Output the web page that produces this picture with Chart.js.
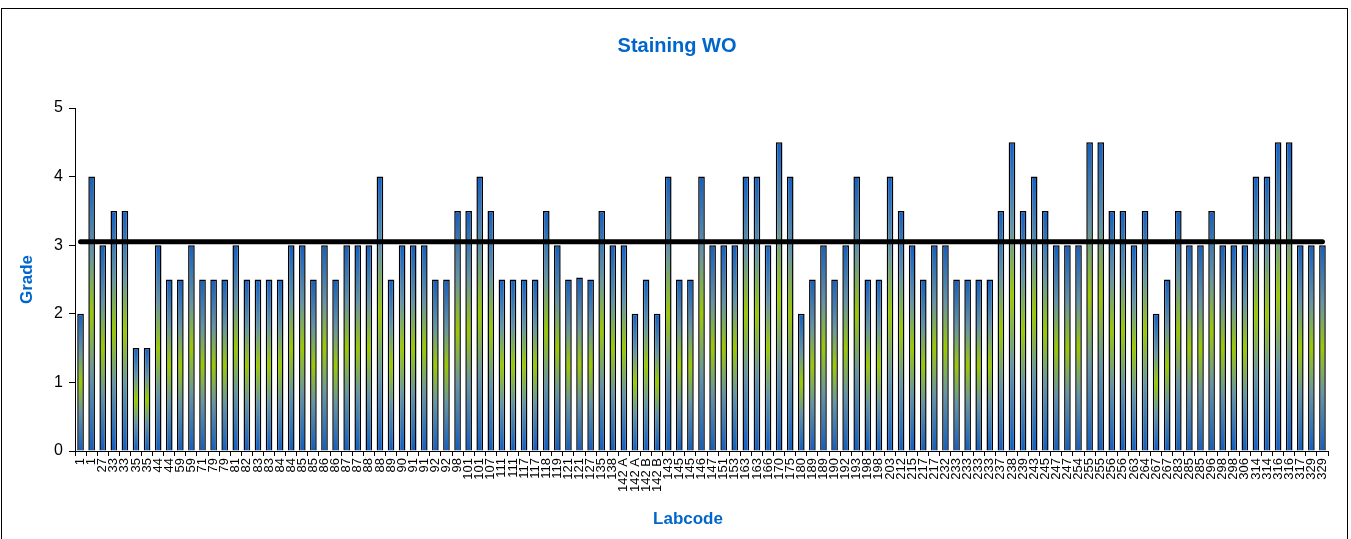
<!DOCTYPE html>
<html>
<head>
<meta charset="utf-8">
<title>Staining WO</title>
<script src="https://cdn.jsdelivr.net/npm/chart.js@4.4.1/dist/chart.umd.min.js"></script>
<style>
  html, body { margin: 0; padding: 0; background: #fff; }
  #wrap { position: relative; width: 1351px; height: 539px; overflow: hidden; }
  #frame { position: absolute; left: 1px; top: 8px; width: 1347px; height: 540px; border: 1px solid #000; box-sizing: border-box; pointer-events: none; }
  canvas { position: absolute; left: 0; top: 0; }
</style>
</head>
<body>
<div id="wrap">
  <canvas id="gradeChart" width="1351" height="539"></canvas>
  <div id="frame"></div>
</div>
<script>
// lab codes along the x axis (two samples per lab mostly)
const labcodes = [
  "1", "1", "27", "33", "33", "35", "35", "44", "44", "59",
  "59", "71", "79", "79", "81", "82", "83", "83", "84", "84",
  "85", "85", "86", "86", "87", "87", "88", "88", "89", "90",
  "91", "91", "92", "92", "98", "101", "101", "107", "111", "111",
  "117", "117", "118", "119", "121", "121", "127", "135", "138", "142 A",
  "142 A", "142 B", "142 B", "143", "145", "145", "146", "147", "151", "153",
  "163", "163", "166", "170", "175", "180", "189", "189", "190", "192",
  "193", "198", "198", "203", "212", "215", "217", "217", "232", "233",
  "233", "233", "233", "237", "238", "239", "243", "245", "247", "247",
  "254", "255", "255", "256", "256", "263", "264", "267", "267", "283",
  "285", "285", "296", "298", "298", "306", "314", "314", "316", "316",
  "317", "329", "329"
];

// grade given by each lab
const grades = [
  2, 4, 3, 3.5, 3.5, 1.5, 1.5, 3, 2.5, 2.5,
  3, 2.5, 2.5, 2.5, 3, 2.5, 2.5, 2.5, 2.5, 3,
  3, 2.5, 3, 2.5, 3, 3, 3, 4, 2.5, 3,
  3, 3, 2.5, 2.5, 3.5, 3.5, 4, 3.5, 2.5, 2.5,
  2.5, 2.5, 3.5, 3, 2.5, 2.53, 2.5, 3.5, 3, 3,
  2, 2.5, 2, 4, 2.5, 2.5, 4, 3, 3, 3,
  4, 4, 3, 4.5, 4, 2, 2.5, 3, 2.5, 3,
  4, 2.5, 2.5, 4, 3.5, 3, 2.5, 3, 3, 2.5,
  2.5, 2.5, 2.5, 3.5, 4.5, 3.5, 4, 3.5, 3, 3,
  3, 4.5, 4.5, 3.5, 3.5, 3, 3.5, 2, 2.5, 3.5,
  3, 3, 3.5, 3, 3, 3, 4, 4, 4.5, 4.5,
  3, 3, 3
];

// mean grade drawn as the thick black line
const meanGrade = 3.05;
const yTicks = [0, 1, 2, 3, 4, 5];

const blue = "#1260c4";
const teal = "#6695a6";
const green = "#9acb00";
const titleBlue = "#0066cc";
const fontFamily = "Arial, 'Liberation Sans', sans-serif";

// chart title and x axis title, placed where the original has them
const titlesPlugin = {
  id: "titles",
  afterDraw(chart) {
    const c = chart.ctx;
    c.save();
    c.fillStyle = titleBlue;
    c.textAlign = "center";
    c.textBaseline = "middle";
    c.font = "bold 20px " + fontFamily;
    c.fillText("Staining WO", 677, 46);
    c.font = "bold 17px " + fontFamily;
    c.fillText("Labcode", 688, 519);
    c.restore();
  }
};

const ctx = document.getElementById("gradeChart").getContext("2d");

new Chart(ctx, {
  data: {
    labels: labcodes,
    datasets: [
      {
        type: "line",
        label: "Mean",
        data: labcodes.map(() => meanGrade),
        borderColor: "#000",
        borderWidth: 5,
        borderCapStyle: "round",
        pointRadius: 0,
        fill: false,
        order: 0
      },
      {
        type: "bar",
        label: "Grade",
        data: grades,
        borderColor: "#000",
        borderWidth: 1.5,
        barPercentage: 0.6,
        categoryPercentage: 1,
        order: 1,
        backgroundColor: (c) => {
          const chart = c.chart;
          if (!chart.chartArea || c.raw === undefined) return blue;
          const y = chart.scales.y;
          const top = y.getPixelForValue(c.raw);
          const base = y.getPixelForValue(0);
          const g = chart.ctx.createLinearGradient(0, top, 0, base);
          g.addColorStop(0, blue);
          g.addColorStop(0.28, teal);
          g.addColorStop(0.5, green);
          g.addColorStop(0.72, teal);
          g.addColorStop(1, blue);
          return g;
        }
      }
    ]
  },
  options: {
    responsive: false,
    animation: false,
    layout: { padding: { left: 0, right: 23, top: 108, bottom: 0 } },
    plugins: {
      legend: { display: false },
      tooltip: { enabled: false },
      title: { display: false }
    },
    scales: {
      x: {
        offset: true,
        grid: { offset: true, drawOnChartArea: false, tickLength: 5, color: "#000" },
        border: { color: "#000", width: 1 },
        ticks: {
          autoSkip: false,
          minRotation: 90,
          maxRotation: 90,
          padding: 2,
          color: "#000",
          font: { family: fontFamily, size: 13 }
        },
        afterFit: (s) => { s.height = 88; }
      },
      y: {
        min: 0,
        max: 5,
        afterBuildTicks: (s) => { s.ticks = yTicks.map(v => ({ value: v })); },
        grid: { drawOnChartArea: false, tickLength: 6, color: "#000" },
        border: { color: "#000", width: 1 },
        ticks: {
          padding: 6,
          color: "#000",
          font: { family: fontFamily, size: 16 }
        },
        title: {
          display: true,
          text: "Grade",
          color: titleBlue,
          font: { family: fontFamily, size: 17, weight: "bold" },
          padding: { top: 17, bottom: 0 }
        },
        afterFit: (s) => { s.width = 75; }
      }
    }
  },
  plugins: [titlesPlugin]
});
</script>
</body>
</html>
